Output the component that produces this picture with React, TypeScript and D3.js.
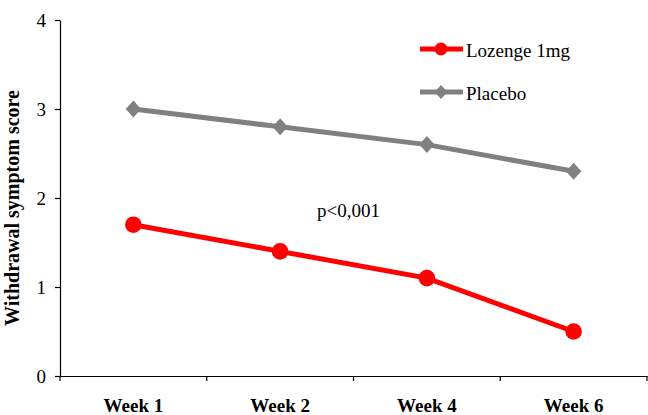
import React, { useEffect, useRef } from "react";
import * as d3 from "d3";

const weeks = ["Week 1", "Week 2", "Week 4", "Week 6"];
const lozenge = [1.7, 1.4, 1.1, 0.5];
const placebo = [3.0, 2.8, 2.6, 2.3];
const yTicks = [0, 1, 2, 3, 4];

// rhombus marker, a bit taller than wide
const rhombus = {
  draw(context: any, size: number) {
    const h = Math.sqrt(size) / 2;
    const w = h * 0.9;
    context.moveTo(0, -h);
    context.lineTo(w, 0);
    context.lineTo(0, h);
    context.lineTo(-w, 0);
    context.closePath();
  },
};

const App: React.FC = () => {
  const svgRef = useRef<SVGSVGElement>(null);

  useEffect(() => {
    if (!svgRef.current) return;
    d3.select(svgRef.current).selectAll("*").remove();

    const W = 648;
    const H = 415;
    const margin = { top: 20, right: 1, bottom: 39, left: 60 };
    const font = "'Liberation Serif', 'Times New Roman', serif";

    const svg = d3
      .select(svgRef.current)
      .attr("width", W)
      .attr("height", H)
      .style("font-family", font);

    const x = d3
      .scaleBand()
      .domain(weeks)
      .range([margin.left, W - margin.right])
      .padding(0);

    const y = d3
      .scaleLinear()
      .domain([0, 4])
      .range([H - margin.bottom, margin.top]);

    const cx = (d: string) => (x(d) || 0) + x.bandwidth() / 2;

    // y axis
    const yAxis = svg
      .append("g")
      .attr("transform", `translate(${margin.left},0)`)
      .call(d3.axisLeft(y).tickValues(yTicks).tickFormat(d3.format("d")).tickSize(5).tickSizeOuter(0));
    yAxis.select(".domain").attr("stroke", "#000").attr("stroke-width", 1.2);
    yAxis.selectAll(".tick line").attr("stroke", "#000").attr("stroke-width", 1.2);
    yAxis
      .selectAll(".tick text")
      .attr("x", -14)
      .attr("dy", "0.34em")
      .style("font-family", font)
      .style("font-size", "19px")
      .attr("fill", "#000");

    // x axis
    const xAxis = svg
      .append("g")
      .attr("transform", `translate(0,${y(0)})`)
      .call(d3.axisBottom(x).tickSize(0).tickSizeOuter(0));
    xAxis.select(".domain").attr("stroke", "#000").attr("stroke-width", 1.2);
    xAxis
      .selectAll(".tick text")
      .attr("y", 36)
      .attr("dy", 0)
      .style("font-family", font)
      .style("font-size", "19px")
      .style("font-weight", "bold")
      .attr("fill", "#000");

    // category boundary ticks
    const bounds = weeks.map((w) => x(w) || 0).concat([x.range()[1]]);
    svg
      .append("g")
      .selectAll("line")
      .data(bounds)
      .enter()
      .append("line")
      .attr("x1", (d) => d)
      .attr("x2", (d) => d)
      .attr("y1", y(0))
      .attr("y2", y(0) + 5)
      .attr("stroke", "#000")
      .attr("stroke-width", 1.2);

    // y title
    svg
      .append("text")
      .attr("transform", `translate(19,208) rotate(-90)`)
      .attr("text-anchor", "middle")
      .style("font-size", "20px")
      .style("font-weight", "bold")
      .text("Withdrawal symptom score");

    const line = d3
      .line<number>()
      .x((_, i) => cx(weeks[i]))
      .y((d) => y(d));

    // placebo
    svg
      .append("path")
      .datum(placebo)
      .attr("d", line)
      .attr("fill", "none")
      .attr("stroke", "#808080")
      .attr("stroke-width", 5);

    const diamond = d3.symbol().type(rhombus).size(17 * 17);
    svg
      .append("g")
      .selectAll("path")
      .data(placebo)
      .enter()
      .append("path")
      .attr("d", diamond)
      .attr("transform", (d, i) => `translate(${cx(weeks[i])},${y(d)})`)
      .attr("fill", "#808080");

    // lozenge
    svg
      .append("path")
      .datum(lozenge)
      .attr("d", line)
      .attr("fill", "none")
      .attr("stroke", "#ff0000")
      .attr("stroke-width", 5);

    svg
      .append("g")
      .selectAll("circle")
      .data(lozenge)
      .enter()
      .append("circle")
      .attr("cx", (d, i) => cx(weeks[i]))
      .attr("cy", (d) => y(d))
      .attr("r", 8.3)
      .attr("fill", "#ff0000");

    // p-value annotation
    svg
      .append("text")
      .attr("x", 317)
      .attr("y", 217)
      .style("font-size", "19px")
      .text("p<0,001");

    // legend
    const legend = svg.append("g");
    const items = [
      { label: "Lozenge 1mg", color: "#ff0000", shape: "circle", y: 49 },
      { label: "Placebo", color: "#808080", shape: "diamond", y: 92 },
    ];
    items.forEach((it) => {
      legend
        .append("line")
        .attr("x1", 420)
        .attr("x2", 463)
        .attr("y1", it.y)
        .attr("y2", it.y)
        .attr("stroke", it.color)
        .attr("stroke-width", 5);
      if (it.shape === "circle") {
        legend.append("circle").attr("cx", 441).attr("cy", it.y).attr("r", 6.5).attr("fill", it.color);
      } else {
        legend
          .append("path")
          .attr("d", d3.symbol().type(rhombus).size(14 * 14)())
          .attr("transform", `translate(441,${it.y})`)
          .attr("fill", it.color);
      }
      legend
        .append("text")
        .attr("x", 466)
        .attr("y", it.y + 8)
        .style("font-size", "19px")
        .text(it.label);
    });
  }, []);

  return (
    <div style={{ position: "absolute", left: 0, top: 0, background: "#fff" }}>
      <svg ref={svgRef} style={{ display: "block" }}></svg>
    </div>
  );
};

export default App;
